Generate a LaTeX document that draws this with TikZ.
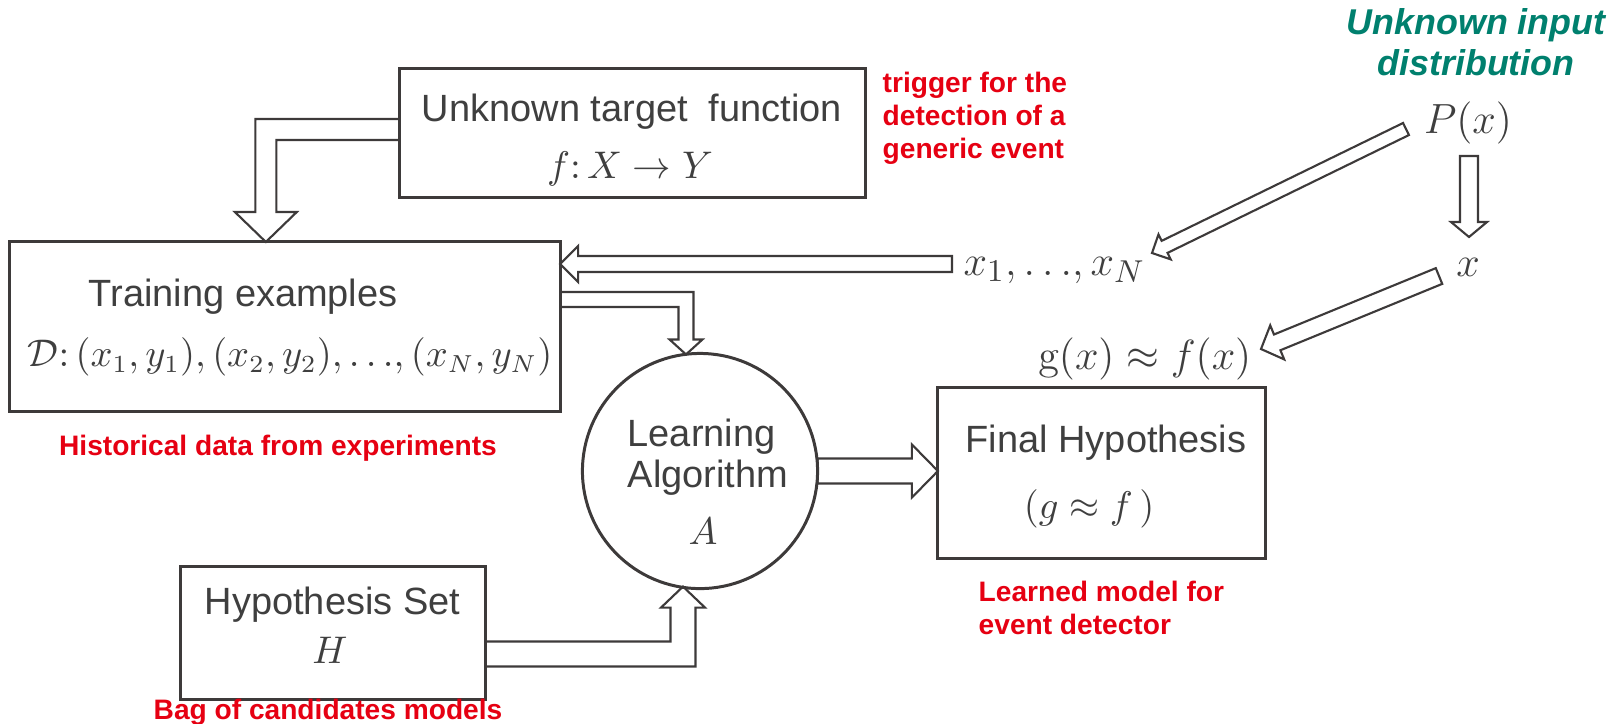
\documentclass[tikz,border=0pt]{standalone}
\usepackage[no-math]{fontspec}
\setmainfont{Liberation Sans}
\usetikzlibrary{calc,backgrounds}
\definecolor{txtgray}{HTML}{3F3F3F}
\definecolor{linegray}{HTML}{3D3A3A}
\definecolor{myred}{HTML}{E60012}
\definecolor{myteal}{HTML}{00806E}
% straight hollow block arrow: #1 tail, #2 tip, #3 half shaft, #4 half head, #5 head length
\newcommand\blockarrow[5]{%
  \coordinate (BAh) at ($(#2)!#5!(#1)$);
  \draw[blk] ($(#1)!#3!90:(#2)$) -- ($(BAh)!#3!90:(#2)$) -- ($(BAh)!#4!90:(#2)$) -- (#2)
    -- ($(BAh)!#4!-90:(#2)$) -- ($(BAh)!#3!-90:(#2)$) -- ($(#1)!#3!-90:(#2)$) -- cycle;}
\begin{document}
\begin{tikzpicture}[x=0.01cm,y=-0.01cm,
  box/.style={draw=linegray, line width=0.85pt, inner sep=0pt, outer sep=0pt},
  blk/.style={draw=linegray, line width=0.6pt, fill=white, line join=miter},
  boxtxt/.style={text=txtgray, font=\fontsize{10.8pt}{13pt}\selectfont, inner sep=0pt},
  boxmath/.style={text=txtgray, font=\fontsize{10.7pt}{12pt}\selectfont, inner sep=0pt},
  bigmath/.style={text=txtgray, font=\fontsize{13pt}{15pt}\selectfont, inner sep=0pt},
  redtxt/.style={text=myred, font=\bfseries\fontsize{8pt}{9.3pt}\selectfont, inner sep=0pt, align=left},
  tealtxt/.style={text=myteal, font=\bfseries\itshape\fontsize{10.2pt}{11.4pt}\selectfont, inner sep=0pt, align=center}]
\useasboundingbox (0,0) rectangle (1618,723);

% boxes
\node[box, minimum width=4.65cm, minimum height=1.28cm] (tgt) at (632.5,133) {};
\node[box, minimum width=5.50cm, minimum height=1.69cm] (tr) at (285,326.5) {};
\node[box, circle, minimum size=2.35cm] (circ) at (700,471) {};
\node[box, minimum width=3.27cm, minimum height=1.70cm] (fin) at (1101.5,473) {};
\node[box, minimum width=3.04cm, minimum height=1.32cm] (hyp) at (333,633) {};

% box texts
\node[boxtxt, anchor=base] (tgtT) at (632,121) {Unknown target\ \ function};
\node[boxmath, anchor=base] (tgtM) at (630,178) {$f\colon X\rightarrow Y$};
\node[boxtxt, anchor=base west] (trT) at (88,306) {Training examples};
\node[boxmath] (trM) at (290,357) {$\mathcal{D}\colon(x_1,y_1),(x_2,y_2),{\ldots},(x_N,y_N)$};
\node[boxtxt, anchor=base west] (lrT1) at (627,446) {Learning};
\node[boxtxt, anchor=base west] (lrT2) at (627,487) {Algorithm};
\node[boxmath] (lrM) at (703,531) {$A$};
\node[boxtxt, anchor=base west] (finT) at (965,452) {Final Hypothesis};
\node[boxmath] (finM) at (1089,509) {$(g\approx f\,)$};
\node[boxtxt, anchor=base west] (hypT) at (204,614) {Hypothesis Set};
\node[boxmath] (hypM) at (330,650) {$H$};

% free math
\node[bigmath, anchor=base] (px) at (1468,133) {$P(x)$};
\node[bigmath, anchor=base] (xx) at (1468,276) {$x$};
\node[bigmath, anchor=base west] (xs) at (963,275) {$x_1,{\ldots},x_N$};
\node[bigmath, anchor=base east] (gx) at (1252,369) {$\mathrm{g}(x)\approx f(x)$};

% annotations (multi-line nodes: base = last line)
\node[redtxt, anchor=base west] (trig) at (882,158) {trigger for the\\detection of a\\generic event};
\node[redtxt, anchor=base] (hist) at (278,455) {Historical data from experiments};
\node[redtxt, anchor=base west] (lm) at (978,634) {Learned model for\\event detector};
\node[redtxt, anchor=base west] (bag) at (153,719) {Bag of candidates models};
\node[tealtxt, anchor=base] (uid) at (1476,75) {Unknown input\\distribution};

% arrows
\begin{scope}[on background layer]
\coordinate (s1) at ([yshift=0.035cm]tgt.west);
\coordinate (t1) at ($(tr.north west)+(256,0)$);
\draw[blk] ($(s1)+(0,-10.5)$) -| ($(t1)+(-10.5,-30)$) -- ($(t1)+(-31,-30)$) -- (t1)
  -- ($(t1)+(31,-30)$) -- ($(t1)+(10.5,-30)$) |- ($(s1)+(0,10.5)$) -- cycle;

\coordinate (s2) at ([yshift=0.27cm]tr.east);
\coordinate (t2) at ($(circ.north)+(-14,1)$);
\draw[blk] ($(s2)+(0,-7.5)$) -| ($(t2)+(7.5,-15)$) -- ($(t2)+(16.5,-15)$) -- (t2)
  -- ($(t2)+(-16.5,-15)$) -- ($(t2)+(-7.5,-15)$) |- ($(s2)+(0,7.5)$) -- cycle;

\coordinate (s3) at ([yshift=-0.21cm]hyp.east);
\coordinate (t3) at ($(circ.south)+(-17,-2)$);
\draw[blk] ($(s3)+(0,12.5)$) -| ($(t3)+(12.5,21)$) -- ($(t3)+(22,21)$) -- (t3)
  -- ($(t3)+(-22,21)$) -- ($(t3)+(-12.5,21)$) |- ($(s3)+(0,-12.5)$) -- cycle;

\coordinate (a1s) at (952,264);
\coordinate (a1e) at (tr.east |- a1s);
\blockarrow{a1s}{a1e}{0.08cm}{0.18cm}{0.18cm}

\coordinate (a2e) at (fin.west |- circ.east);
\blockarrow{circ.east}{a2e}{0.125cm}{0.265cm}{0.26cm}

\coordinate (a3s) at (1406,129);
\coordinate (a3e) at (1152,253);
\blockarrow{a3s}{a3e}{0.067cm}{0.139cm}{0.14cm}

\coordinate (a4s) at (1469,156);
\coordinate (a4e) at (1469,237);
\blockarrow{a4s}{a4e}{0.09cm}{0.18cm}{0.15cm}

\coordinate (a5s) at (1439,276);
\coordinate (a5e) at (1261,349);
\blockarrow{a5s}{a5e}{0.085cm}{0.184cm}{0.175cm}
\end{scope}
\end{tikzpicture}
\end{document}
